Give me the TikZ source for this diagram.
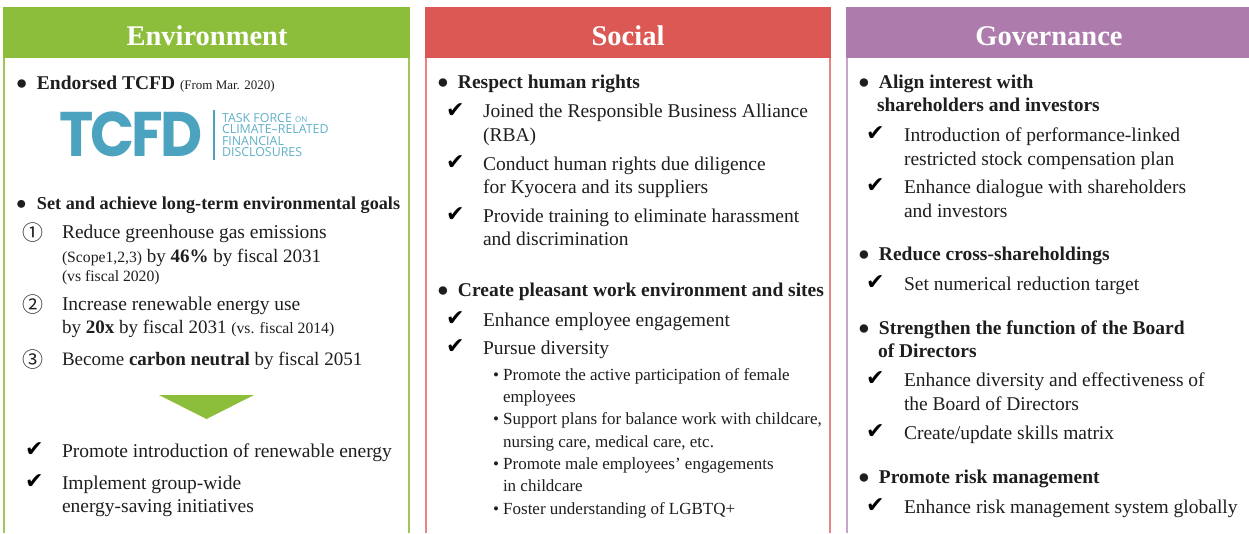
\documentclass[tikz,border=0pt]{standalone}
\usepackage{fontspec}
\setmainfont{Liberation Serif}
\newfontfamily\djv{DejaVu Sans}
\newfontfamily\cjkn{Noto Sans CJK JP}
\newfontfamily\lgb[LetterSpace=-5]{Poppins}
\newfontfamily\lgo{Open Sans}
\definecolor{envc}{HTML}{8CBE3C}
\definecolor{socc}{HTML}{DC5855}
\definecolor{govc}{HTML}{AD7BAC}
\definecolor{envl}{HTML}{9CC75C}
\definecolor{socl}{HTML}{E88583}
\definecolor{govl}{HTML}{C5A5CC}
\definecolor{tcfdc}{HTML}{4BA3BF}
\definecolor{tcfdl}{HTML}{62B0C9}
\definecolor{ink}{HTML}{1E1E1E}
\newcommand{\fs}[1]{\fontsize{#1}{#1}\selectfont}
\newcommand{\bul}{\makebox[21pt][l]{●}}
\tikzset{
  x=1pt,y=-1pt,
  txt/.style={anchor=base west,inner sep=0pt,outer sep=0pt,text=ink,font=\fs{19.5}},
  txs/.style={txt,font=\fs{19}},
  hd/.style={txt,font=\fs{19.5}\bfseries},
  sm/.style={txt,font=\fs{17}},
  ttl/.style={anchor=base,inner sep=0pt,text=white,font=\fs{28.5}\bfseries},
  chk/.style={txt,text=black,font=\fs{22}\djv},
  num/.style={txt,font=\fs{21}\cjkn},
  lgt/.style={txt,text=tcfdl,font=\fs{12.4}\lgo},
  panel/.style={line width=2pt},
}
\begin{document}
\begin{tikzpicture}
\useasboundingbox (0,0) rectangle (1249,533);
\fill[white] (0,0) rectangle (1249,533);
% panels
\draw[panel,envl] (4,533) -- (4,8) -- (409,8) -- (409,533);
\fill[envc] (3,7) rectangle (410,58);
\draw[panel,socl] (426,533) -- (426,8) -- (830,8) -- (830,533);
\fill[socc] (425,7) rectangle (831,58);
\draw[panel,govl] (847,533) -- (847,8) -- (1250,8);
\fill[govc] (846,7) rectangle (1249,58);
\node[ttl] (t1) at (207,45) {Environment};
\node[ttl] (t2) at (628,45) {Social};
\node[ttl] (t3) at (1049,45) {Governance};
% Environment
\node[hd] (e0) at (16,89) {\bul Endorsed TCFD {\fs{13}\mdseries (From Mar. 2020)}};
\node[txt,text=tcfdc,font=\fs{63}\lgb\bfseries] (logo) at (59,156) {\scalebox{.92}[1]{TCFD}};
\fill[tcfdc] (213,110) rectangle (215,160);
\node[lgt] (l1) at (222,122) {TASK FORCE {\fs{8}ON}};
\node[lgt] (l2) at (222,133.5) {CLIMATE–RELATED};
\node[lgt] (l3) at (222,145) {FINANCIAL};
\node[lgt] (l4) at (222,156.7) {DISCLOSURES};
\node[hd,font=\fs{18.2}\bfseries] (e1) at (16,209) {\bul Set and achieve long-term environmental goals};
\node[num] (n1) at (23,240.5) {①};
\node[txt] (e2) at (62,238) {Reduce greenhouse gas emissions};
\node[txs] (e3) at (62,262) {{\fs{15.7}(Scope1,2,3)} by \textbf{46\%} by fiscal 2031};
\node[txt,font=\fs{15.7}] (e4) at (62,281) {(vs fiscal 2020)};
\node[num] (n2) at (23,312.5) {②};
\node[txt] (e5) at (62,310) {Increase renewable energy use};
\node[txs] (e6) at (62,333) {by \textbf{20x} by fiscal 2031 {\fs{15.7}(vs. fiscal 2014)}};
\node[num] (n3) at (23,367.5) {③};
\node[txs] (e7) at (62,365) {Become \textbf{carbon neutral} by fiscal 2051};
\fill[envc] (159,395) -- (254,395) -- (206.5,419) -- cycle;
\node[chk] (c1) at (25,456) {✔};
\node[txt] (e8) at (62,457) {Promote introduction of renewable energy};
\node[chk] (c2) at (25,488) {✔};
\node[txt] (e9) at (62,489) {Implement group-wide};
\node[txt] (e10) at (62,512) {energy-saving initiatives};
% Social
\node[hd] (s0) at (437,88) {\bul Respect human rights};
\node[chk] (sc1) at (446,117) {✔};
\node[txt] (s1) at (483,117) {Joined the Responsible Business Alliance};
\node[txt] (s2) at (483,141) {(RBA)};
\node[chk] (sc2) at (446,169) {✔};
\node[txt] (s3) at (483,170) {Conduct human rights due diligence};
\node[txt] (s4) at (483,193) {for Kyocera and its suppliers};
\node[chk] (sc3) at (446,221) {✔};
\node[txt] (s5) at (483,222) {Provide training to eliminate harassment};
\node[txt] (s6) at (483,245) {and discrimination};
\node[hd] (s7) at (437,296) {\bul Create pleasant work environment and sites};
\node[chk] (sc4) at (446,325) {✔};
\node[txt] (s8) at (483,326) {Enhance employee engagement};
\node[chk] (sc5) at (446,353) {✔};
\node[txt] (s9) at (483,354) {Pursue diversity};
\node[sm] (s10) at (493,380) {• Promote the active participation of female};
\node[sm] (s11) at (503,402) {employees};
\node[sm] (s12) at (493,424) {• Support plans for balance work with childcare,};
\node[sm] (s13) at (503,447) {nursing care, medical care, etc.};
\node[sm] (s14) at (493,469) {• Promote male employees’ engagements};
\node[sm] (s15) at (503,491) {in childcare};
\node[sm] (s16) at (493,514) {• Foster understanding of LGBTQ+};
% Governance
\node[hd] (g0) at (858,88) {\bul Align interest with};
\node[hd] (g1) at (877,111) {shareholders and investors};
\node[chk] (gc1) at (866,140) {✔};
\node[txt] (g2) at (904,141) {Introduction of performance-linked};
\node[txt] (g3) at (904,165) {restricted stock compensation plan};
\node[chk] (gc2) at (866,192) {✔};
\node[txt] (g4) at (904,193) {Enhance dialogue with shareholders};
\node[txt] (g5) at (904,217) {and investors};
\node[hd] (g6) at (858,260) {\bul Reduce cross-shareholdings};
\node[chk] (gc3) at (866,289) {✔};
\node[txt] (g7) at (904,290) {Set numerical reduction target};
\node[hd] (g8) at (858,334) {\bul Strengthen the function of the Board};
\node[hd] (g9) at (878,357) {of Directors};
\node[chk] (gc4) at (866,385) {✔};
\node[txt] (g10) at (904,386) {Enhance diversity and effectiveness of};
\node[txt] (g11) at (904,410) {the Board of Directors};
\node[chk] (gc5) at (866,438) {✔};
\node[txt] (g12) at (904,439) {Create/update skills matrix};
\node[hd] (g13) at (858,483) {\bul Promote risk management};
\node[chk] (gc6) at (866,512) {✔};
\node[txt] (g14) at (904,513) {Enhance risk management system globally};
\end{tikzpicture}
\end{document}
